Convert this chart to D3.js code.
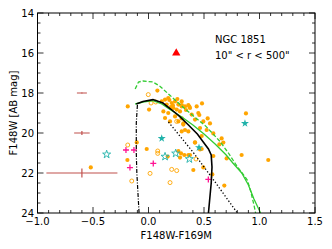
<!DOCTYPE html>
<html><head><meta charset="utf-8">
<script src="https://cdn.jsdelivr.net/npm/d3@7"></script>
<style>body{margin:0;background:#fff}svg{display:block}text{font-family:"DejaVu Sans",sans-serif}</style>
</head><body><svg id="c" width="332" height="249"></svg>
<script>
// ---- data ----
const xTicks = [-1.0,-0.5,0.0,0.5,1.0,1.5];
const xTickLabels = ["\u22121.0","\u22120.5","0.0","0.5","1.0","1.5"];
const yTicks = [14,16,18,20,22,24];
const yTickLabels = ["14","16","18","20","22","24"];

const orangeFilled = [
[-0.187,18.67],[0.08,17.88],[0.005,18.83],[0.119,18.42],[0.149,18.33],[0.178,18.25],[0.164,18.58],
[0.209,18.5],[0.239,18.42],[0.269,18.58],[0.224,18.75],[0.254,18.83],[0.299,18.67],[0.329,18.67],
[0.284,18.92],[0.134,18.92],[0.178,19.0],[0.194,19.42],[0.269,19.42],[0.314,19.58],[0.239,19.17],
[0.389,19.08],[0.419,19.33],[0.449,19.0],[0.494,19.42],[0.464,19.75],[0.359,19.92],[0.299,19.92],
[0.374,18.75],[0.434,18.67],[0.149,19.25],[0.299,18.42],[0.188,18.35],[0.338,18.85],[0.368,18.68],
[0.482,18.52],[0.458,19.1],[0.533,19.27],[0.554,19.52],[0.524,19.85],[0.584,20.02],[0.659,20.27],
[0.674,20.48],[0.638,20.57],[0.419,20.48],[0.464,20.82],[0.584,21.15],[0.704,21.27],[0.839,21.1],
[1.079,21.35],[0.878,19.02],[0.404,21.85],[0.494,21.72],[0.3,18.6],[0.359,18.6],[0.314,19.52],
[0.329,19.85],[0.299,19.27],[0.374,21.1],[-0.106,20.47],[-0.016,20.8],[-0.19,21.35],[0.269,20.9],
[0.293,21.02],[0.323,21.1],[0.359,21.1],[0.284,21.23],[0.173,21.18],[0.479,20.8],[0.419,20.47],
[0.479,20.15],[0.575,22.07],[0.683,22.63],[-0.52,21.72],[0.26,18.3],[0.22,18.62],[0.2,18.7]
];
const orangeOpen = [
[-0.002,18.08],[0.023,18.5],[0.065,18.45],[0.254,19.42],[-0.187,20.6],[0.083,20.9],[0.083,21.02],
[-0.151,22.4],[0.014,22.02],[0.209,21.82],[0.254,21.88],[0.194,22.48],[0.428,21.3]
];
const starsFilled = [[0.119,20.27],[0.455,20.73],[0.869,19.52]];
const starsOpen = [[-0.377,21.07],[0.149,21.18],[0.245,21.02],[0.368,21.3]];
const plusPts = [[-0.203,20.85],[-0.131,20.85],[0.043,21.52],[-0.167,21.73],[0.539,22.32]];
const triPts = [[0.25,16.0]];

const errX = [-0.6,-0.6,-0.6];
const errY = [18,20,22];
const errXW = [0.045,0.07,0.32];
const errYW = [0.03,0.1,0.22];

const blackSolid = [[-0.11,18.55],[-0.05,18.42],[0.04,18.33],[0.13,18.5],[0.2,18.8],[0.28,19.17],[0.36,19.6],
[0.44,20.05],[0.5,20.5],[0.54,20.8],[0.565,21.1],[0.572,21.7],[0.565,22.5],[0.55,23.4],[0.54,24]];
const greenSolid = [[-0.12,18.55],[-0.05,18.45],[0.04,18.38],[0.12,18.55],[0.2,18.85],[0.3,19.2],[0.4,19.6],
[0.5,20.05],[0.6,20.55],[0.7,21.1],[0.76,21.5],[0.84,22.0],[0.9,22.6],[0.95,23.3],[1.01,24]];
const greenDashed = [[-0.12,17.8],[-0.09,17.45],[-0.05,17.4],[0.04,17.45],[0.1,17.65],[0.19,18.1],[0.34,18.85],
[0.52,19.68],[0.64,20.4],[0.72,21.0],[0.79,21.6],[0.85,22.05],[0.89,22.35],[0.92,22.9],[0.95,23.6],[0.965,24]];
const blackDashDot = [[-0.10,18.6],[-0.11,19.5],[-0.11,21.0],[-0.105,22.0],[-0.095,23.0],[-0.085,24]];
const blackDotted = [[0.18,19.45],[0.4,20.95],[0.6,22.45],[0.8,24]];

// ---- chart ----
const svg = d3.select("#c");
const L=37.5,R=315,T=13,B=213;
const x = d3.scaleLinear().domain([-1,1.5]).range([L,R]);
const y = d3.scaleLinear().domain([14,24]).range([T,B]);

svg.append("clipPath").attr("id","clip").append("rect").attr("x",L).attr("y",T).attr("width",R-L).attr("height",B-T);
const g = svg.append("g").attr("clip-path","url(#clip)");

const line = d3.line().x(d=>x(d[0])).y(d=>y(d[1])).curve(d3.curveLinear);

// error bars
const ec="#c0504d";
errX.forEach((v,i)=>{
  g.append("line").attr("x1",x(v-errXW[i])).attr("x2",x(v+errXW[i])).attr("y1",y(errY[i])).attr("y2",y(errY[i])).attr("stroke",ec).attr("stroke-width",1.2);
  g.append("line").attr("x1",x(v)).attr("x2",x(v)).attr("y1",y(errY[i]-errYW[i])).attr("y2",y(errY[i]+errYW[i])).attr("stroke",ec).attr("stroke-width",1.2);
});

// points
const orange="#ffa500";
g.selectAll(".of").data(orangeFilled).join("circle").attr("cx",d=>x(d[0])).attr("cy",d=>y(d[1])).attr("r",2.1).attr("fill",orange);
g.selectAll(".oo").data(orangeOpen).join("circle").attr("cx",d=>x(d[0])).attr("cy",d=>y(d[1])).attr("r",2.0).attr("fill","none").attr("stroke",orange).attr("stroke-width",0.9);
const star=d3.symbol().type(d3.symbolStar).size(20);
const teal="#20b2aa";
g.selectAll(".sf").data(starsFilled).join("path").attr("d",star).attr("transform",d=>`translate(${x(d[0])},${y(d[1])})`).attr("fill",teal);
g.selectAll(".so").data(starsOpen).join("path").attr("d",star).attr("transform",d=>`translate(${x(d[0])},${y(d[1])})`).attr("fill","none").attr("stroke",teal).attr("stroke-width",0.9);
g.selectAll(".pl").data(plusPts).join("path").attr("d","M-3,0H3M0,-3V3").attr("transform",d=>`translate(${x(d[0])},${y(d[1])})`).attr("stroke","#ff1493").attr("stroke-width",1.3).attr("fill","none");
const tri=d3.symbol().type(d3.symbolTriangle).size(30);
g.selectAll(".tr").data(triPts).join("path").attr("d",tri).attr("transform",d=>`translate(${x(d[0])},${y(d[1])})`).attr("fill","#ff0000");

// lines
const green="#33cc33";
g.append("path").attr("d",line(greenDashed)).attr("fill","none").attr("stroke",green).attr("stroke-width",1.3).attr("stroke-dasharray","4,2");
g.append("path").attr("d",line(greenSolid)).attr("fill","none").attr("stroke",green).attr("stroke-width",1.3);
g.append("path").attr("d",line(blackSolid)).attr("fill","none").attr("stroke","#000").attr("stroke-width",1.6);
g.append("path").attr("d",line(blackDashDot)).attr("fill","none").attr("stroke","#000").attr("stroke-width",1.2).attr("stroke-dasharray","4,1.5,1,1.5");
g.append("path").attr("d",line(blackDotted)).attr("fill","none").attr("stroke","#000").attr("stroke-width",1.3).attr("stroke-dasharray","1.3,2");

// frame
svg.append("rect").attr("x",L).attr("y",T).attr("width",R-L).attr("height",B-T).attr("fill","none").attr("stroke","#000").attr("stroke-width",1);

// ticks (inward, all sides)
const ax = svg.append("g").attr("stroke","#000").attr("stroke-width",0.8);
const xMinor = d3.range(-10,16).map(i=>i/10);
xMinor.forEach(v=>{
  const maj = xTicks.some(t=>Math.abs(t-v)<1e-6);
  const len = maj?6:3;
  ax.append("line").attr("x1",x(v)).attr("x2",x(v)).attr("y1",B).attr("y2",B-len);
  ax.append("line").attr("x1",x(v)).attr("x2",x(v)).attr("y1",T).attr("y2",T+len);
});
const yMinor = d3.range(28,49).map(i=>i/2);
yMinor.forEach(v=>{
  const maj = yTicks.includes(v);
  const len = maj?6:3;
  ax.append("line").attr("x1",L).attr("x2",L+len).attr("y1",y(v)).attr("y2",y(v));
  ax.append("line").attr("x1",R).attr("x2",R-len).attr("y1",y(v)).attr("y2",y(v));
});

// tick labels
xTicks.forEach((v,i)=>svg.append("text").attr("x",x(v)).attr("y",225).attr("text-anchor","middle").attr("font-size",10).text(xTickLabels[i]));
yTicks.forEach((v,i)=>svg.append("text").attr("x",34).attr("y",y(v)+3.6).attr("text-anchor","end").attr("font-size",10).text(yTickLabels[i]));

// axis labels
svg.append("text").attr("x",(L+R)/2).attr("y",239).attr("text-anchor","middle").attr("font-size",10).text("F148W-F169M");
svg.append("text").attr("transform",`translate(17,${(T+B)/2}) rotate(-90)`).attr("text-anchor","middle").attr("font-size",10).text("F148W [AB mag]");

// annotation
svg.append("text").attr("x",215).attr("y",43).attr("font-size",10).text("NGC 1851");
svg.append("text").attr("x",215).attr("y",59).attr("font-size",10).text("10\" < r < 500\"");
</script></body></html>
